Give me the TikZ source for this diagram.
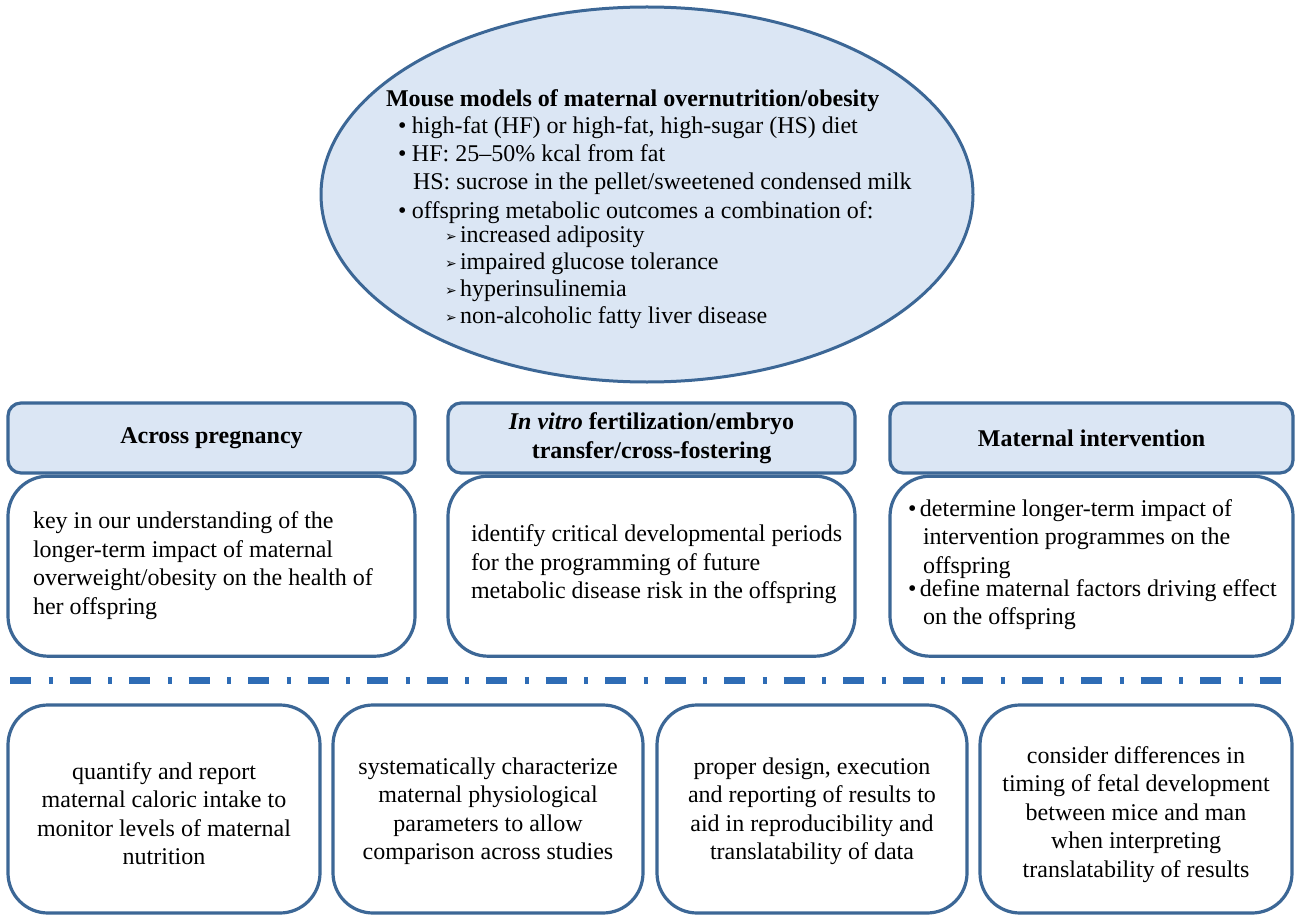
\documentclass[tikz,border=0pt]{standalone}
\usepackage{fontspec}
\setmainfont{Liberation Serif}
\newfontfamily\dejavu{DejaVu Sans}
\usetikzlibrary{shapes.geometric}
\definecolor{bordc}{HTML}{3C6796}
\definecolor{fillc}{HTML}{DBE6F4}
\definecolor{dashc}{HTML}{2E6CB5}
\newcommand{\arrb}{\makebox[15pt][l]{\raisebox{0.5pt}{\dejavu\fontsize{14}{14}\selectfont ➢}}}
\newcommand{\bul}{\makebox[14pt][l]{\textbullet}}
\begin{document}
\begin{tikzpicture}[x=1pt,y=-1pt,
  font=\fontsize{24}{28.5}\selectfont,
  hdr/.style={draw=bordc, fill=fillc, line width=3.2pt, rounded corners=13pt, inner sep=0pt, font=\fontsize{24}{28.5}\selectfont\bfseries, align=center},
  bodybox/.style={draw=bordc, fill=white, line width=3.2pt, rounded corners=40pt, inner sep=0pt},
  txt/.style={inner sep=0pt, outer sep=0pt}]
\useasboundingbox (0,0) rectangle (1297,917);
\fill[white] (0,0) rectangle (1297,917);

% ellipse
\node[ellipse, draw=bordc, fill=fillc, line width=3pt, minimum width=652, minimum height=375, inner sep=0pt] (ell) at (647,194.5) {};
\node[txt, anchor=north west, align=left] (elltxt) at (386,89.5) {%
\textbf{Mouse models of maternal overnutrition/obesity}\\[-1.5pt]
\hspace*{12pt}\bul high-fat (HF) or high-fat, high-sugar (HS) diet\\[-0.5pt]
\hspace*{12pt}\bul HF: 25--50\% kcal from fat\\[-0.5pt]
\hspace*{27pt}HS: sucrose in the pellet/sweetened condensed milk\\[0.5pt]
\hspace*{12pt}\bul offspring metabolic outcomes a combination of:\\[-4.5pt]
\hspace*{59pt}\arrb increased adiposity\\[-1.5pt]
\hspace*{59pt}\arrb impaired glucose tolerance\\[-1.5pt]
\hspace*{59pt}\arrb hyperinsulinemia\\[-1.5pt]
\hspace*{59pt}\arrb non-alcoholic fatty liver disease};

% top boxes
\node[hdr, minimum width=407, minimum height=70] (h1) at (211.5,438) {Across pregnancy};
\node[hdr, minimum width=407, minimum height=70] (h2) at (651.5,438) {\textit{In vitro} fertilization/embryo\\transfer/cross-fostering};
\node[hdr, minimum width=403, minimum height=70] (h3) at (1091.5,438) {Maternal intervention};

\node[bodybox, minimum width=407, minimum height=180, anchor=north] (b1) at (h1.south) {};
\node[bodybox, minimum width=407, minimum height=180, anchor=north] (b2) at (h2.south) {};
\node[bodybox, minimum width=403, minimum height=180, anchor=north] (b3) at (h3.south) {};

\node[txt, anchor=north west, align=left] (t1) at (33,512) {key in our understanding of the\\longer-term impact of maternal\\overweight/obesity on the health of\\her offspring};
\node[txt, anchor=north west, align=left] (t2) at (471,525) {identify critical developmental periods\\for the programming of future\\metabolic disease risk in the offspring};
\node[txt, anchor=north west, align=left] (t3) at (908,499.5) {%
\makebox[12pt][l]{\textbullet}determine longer-term impact of\\
\hspace*{15pt}intervention programmes on the\\
\hspace*{15pt}offspring\\[-5.5pt]
\makebox[12pt][l]{\textbullet}define maternal factors driving effect\\
\hspace*{15pt}on the offspring};

% dash-dot separator
\coordinate (dl) at (10,680);
\coordinate (dr) at (1281,680);
\draw[dashc, line width=7pt, dash pattern=on 21pt off 17.5pt on 4pt off 17pt] (dl) -- (dr);

% bottom boxes
\node[bodybox, minimum width=312, minimum height=208] (c1) at (164,809) {};
\node[bodybox, minimum width=310, minimum height=208] (c2) at (488,809) {};
\node[bodybox, minimum width=310, minimum height=208] (c3) at (812,809) {};
\node[bodybox, minimum width=312, minimum height=208] (c4) at (1136,809) {};

\node[txt, anchor=north, align=center] (ct1) at (164,762.5) {quantify and report\\maternal caloric intake to\\monitor levels of maternal\\nutrition};
\node[txt, anchor=north, align=center] (ct2) at (488,757.5) {systematically characterize\\maternal physiological\\parameters to allow\\comparison across studies};
\node[txt, anchor=north, align=center] (ct3) at (812,757.5) {proper design, execution\\and reporting of results to\\aid in reproducibility and\\translatability of data};
\node[txt, anchor=north, align=center] (ct4) at (1136,746.5) {consider differences in\\timing of fetal development\\between mice and man\\when interpreting\\translatability of results};
\end{tikzpicture}
\end{document}
